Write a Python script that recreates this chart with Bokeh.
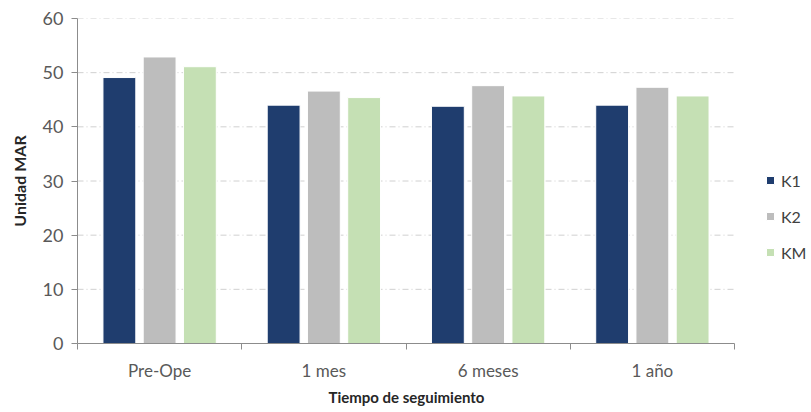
from bokeh.plotting import figure
from bokeh.models import ColumnDataSource, FixedTicker, Legend, LegendItem, Range1d, Title
from bokeh.embed import file_html
from bokeh.resources import INLINE

categories = ["Pre-Ope", "1 mes", "6 meses", "1 año"]
series_names = ["K1", "K2", "KM"]
k1 = [49.1, 44.0, 43.8, 44.0]
k2 = [52.9, 46.6, 47.6, 47.3]
km = [51.1, 45.4, 45.7, 45.7]
colors = ["#1F3D6E", "#BDBDBD", "#C5E0B4"]
y_ticks = [0, 10, 20, 30, 40, 50, 60]

FONT = "Lato"
n = len(categories)
# frame spans from the y axis to the right edge; categories occupy 0..n
x_end = n * (811 - 77) / (734 - 77)

p = figure(width=811, height=412, output_backend="svg", toolbar_location=None,
           x_range=Range1d(0, x_end), y_range=Range1d(0, 60),
           min_border_left=77, min_border_right=0, min_border_top=18, min_border_bottom=69)
p.outline_line_color = None
p.background_fill_color = "white"

# gridlines limited to the category area
p.xgrid.grid_line_color = None
p.ygrid.grid_line_color = None
gy = y_ticks[1:]
p.segment(x0=[0] * len(gy), x1=[n] * len(gy), y0=gy, y1=gy,
          line_color="#D0D0D0", line_width=1, line_dash="6 3 1 3")

offsets = [-0.245, 0.0, 0.245]
renderers = []
for vals, off, col in zip([k1, k2, km], offsets, colors):
    src = ColumnDataSource(dict(x=[i + 0.5 + off for i in range(n)], top=vals))
    r = p.vbar(x="x", top="top", width=0.2, source=src, fill_color=col, line_color="white", line_width=1)
    renderers.append(r)

# x axis
p.xaxis.bounds = (0, n)
p.xaxis.ticker = FixedTicker(ticks=[i + 0.5 for i in range(n)], minor_ticks=list(range(n + 1)))
p.xaxis.major_label_overrides = {i + 0.5: c for i, c in enumerate(categories)}
p.xaxis.major_tick_line_color = None
p.xaxis.minor_tick_line_color = "#8C8C8C"
p.xaxis.minor_tick_in = 0
p.xaxis.minor_tick_out = 6
p.xaxis.axis_line_color = "#8C8C8C"
p.xaxis.major_label_text_font = FONT
p.xaxis.major_label_text_font_size = "17px"
p.xaxis.major_label_text_color = "#595959"
p.xaxis.major_label_standoff = 10

xt = Title(text="Tiempo de seguimiento", align="left", offset=251,
           text_font=FONT, text_font_style="bold", text_font_size="15px",
           text_color="#262626", standoff=4)
p.add_layout(xt, "below")

# y axis
p.yaxis.ticker = FixedTicker(ticks=y_ticks)
p.yaxis.minor_tick_line_color = None
p.yaxis.major_tick_in = 0
p.yaxis.major_tick_out = 6
p.yaxis.major_tick_line_color = "#8C8C8C"
p.yaxis.axis_line_color = "#8C8C8C"
p.yaxis.major_label_text_font = FONT
p.yaxis.major_label_text_font_size = "18px"
p.yaxis.major_label_text_color = "#595959"
p.yaxis.major_label_standoff = 8
p.yaxis.axis_label = "Unidad MAR"
p.yaxis.axis_label_text_font = FONT
p.yaxis.axis_label_text_font_style = "bold"
p.yaxis.axis_label_text_font_size = "16px"
p.yaxis.axis_label_text_color = "#262626"
p.yaxis.axis_label_standoff = 11

legend = Legend(items=[LegendItem(label=s, renderers=[r]) for s, r in zip(series_names, renderers)],
                location=(688, 81), orientation="vertical")
legend.border_line_color = None
legend.background_fill_alpha = 0
legend.padding = 0
legend.margin = 0
legend.spacing = 16
legend.glyph_width = 10
legend.glyph_height = 10
legend.label_height = 20
legend.label_standoff = 6
legend.label_text_font = FONT
legend.label_text_font_size = "16px"
legend.label_text_color = "#404040"
p.add_layout(legend, "center")

open("out.html", "w").write(file_html(p, INLINE))
